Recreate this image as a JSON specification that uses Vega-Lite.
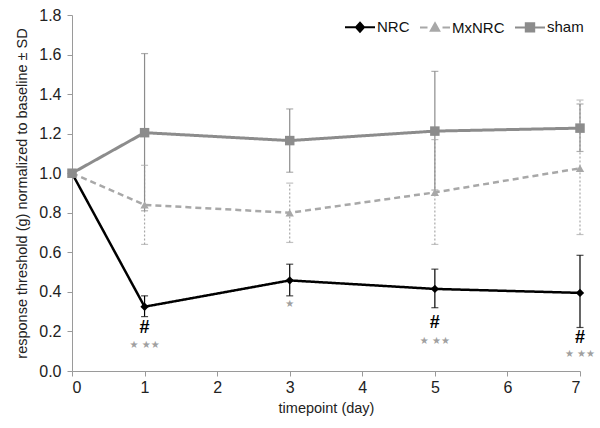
{
  "$schema": "https://vega.github.io/schema/vega-lite/v6.json",
  "width": 508,
  "height": 356,
  "autosize": {"type": "none"},
  "padding": {"left": 72, "top": 15, "right": 20, "bottom": 57},
  "background": "white",
  "config": {
    "font": "Liberation Sans",
    "view": {"stroke": null},
    "axis": {
      "grid": false,
      "domainColor": "#9a9a9a",
      "tickColor": "#9a9a9a",
      "tickSize": 5,
      "labelFontSize": 16,
      "labelColor": "#222222",
      "labelOverlap": false,
      "labelSeparation": 0,
      "titleFontSize": 14.5,
      "titleFontWeight": "normal",
      "titleColor": "#222222"
    },
    "axisY": {"labelOverlap": false, "tickCount": 10}
  },
  "datasets": {
    "series": [
      {"series": "NRC", "day": 0, "mean": 1.0, "lo": 1.0, "hi": 1.0},
      {"series": "NRC", "day": 1, "mean": 0.325, "lo": 0.275, "hi": 0.38},
      {"series": "NRC", "day": 3, "mean": 0.458, "lo": 0.38, "hi": 0.54},
      {"series": "NRC", "day": 5, "mean": 0.415, "lo": 0.32, "hi": 0.515},
      {"series": "NRC", "day": 7, "mean": 0.395, "lo": 0.22, "hi": 0.585},
      {"series": "MxNRC", "day": 0, "mean": 1.0, "lo": 1.0, "hi": 1.0},
      {"series": "MxNRC", "day": 1, "mean": 0.84, "lo": 0.64, "hi": 1.04},
      {"series": "MxNRC", "day": 3, "mean": 0.80, "lo": 0.65, "hi": 0.95},
      {"series": "MxNRC", "day": 5, "mean": 0.903, "lo": 0.64, "hi": 1.17},
      {"series": "MxNRC", "day": 7, "mean": 1.025, "lo": 0.69, "hi": 1.37},
      {"series": "sham", "day": 0, "mean": 1.0, "lo": 1.0, "hi": 1.0},
      {"series": "sham", "day": 1, "mean": 1.205, "lo": 0.81, "hi": 1.605},
      {"series": "sham", "day": 3, "mean": 1.165, "lo": 1.005, "hi": 1.325},
      {"series": "sham", "day": 5, "mean": 1.213, "lo": 0.915, "hi": 1.515},
      {"series": "sham", "day": 7, "mean": 1.228, "lo": 1.11, "hi": 1.35}
    ],
    "notes": [
      {"day": 1, "y": 0.215, "text": "#", "kind": "hash"},
      {"day": 1, "y": 0.13, "text": "★ ★★", "kind": "star"},
      {"day": 3, "y": 0.34, "text": "★", "kind": "star"},
      {"day": 5, "y": 0.245, "text": "#", "kind": "hash"},
      {"day": 5, "y": 0.15, "text": "★ ★★", "kind": "star"},
      {"day": 7, "y": 0.165, "text": "#", "kind": "hash"},
      {"day": 7, "y": 0.085, "text": "★ ★★", "kind": "star"}
    ]
  },
  "encoding": {
    "x": {
      "field": "day", "type": "quantitative",
      "scale": {"domain": [0, 7], "nice": false},
      "axis": {"values": [0, 1, 2, 3, 4, 5, 6, 7], "format": "d", "title": "timepoint (day)", "labelPadding": 3, "titlePadding": 6, "labelOverlap": false}
    }
  },
  "layer": [
    {
      "data": {"name": "series"},
      "mark": {"type": "line"},
      "encoding": {
        "y": {
          "field": "mean", "type": "quantitative",
          "scale": {"domain": [0, 1.8], "nice": false, "zero": true},
          "axis": {"values": [0, 0.2, 0.4, 0.6, 0.8, 1, 1.2, 1.4, 1.6, 1.8], "format": ".1f", "title": "response threshold (g) normalized  to baseline ± SD", "labelPadding": 6, "titlePadding": 9, "labelOverlap": false, "tickCount": 10}
        },
        "color": {
          "field": "series", "type": "nominal",
          "scale": {"domain": ["NRC", "MxNRC", "sham"], "range": ["#000000", "#a8a8a8", "#8c8c8c"]},
          "legend": {
            "title": null,
            "orient": "top-right",
            "direction": "horizontal",
            "offset": -4,
            "labelFontSize": 15,
            "labelColor": "#111111",
            "labelOffset": 1,
            "columnPadding": 6,
            "symbolSize": 900,
            "symbolStrokeWidth": 2,
            "encode": {
              "symbols": {
                "update": {
                  "shape": {"signal": "datum.value === 'NRC' ? 'M-1,0H1M0,-0.3L0.27,0L0,0.3L-0.27,0Z' : datum.value === 'MxNRC' ? 'M-1,0H-0.5M0,-0.28L0.28,0.22L-0.28,0.22ZM0.5,0H1' : 'M-1,0H1M-0.28,-0.28H0.28V0.28H-0.28Z'"},
                  "fill": {"signal": "scale('color', datum.value)"},
                  "stroke": {"signal": "scale('color', datum.value)"},
                  "strokeWidth": {"value": 2},
                  "size": {"value": 900}
                }
              }
            }
          }
        },
        "strokeDash": {"condition": {"test": "datum.series === 'MxNRC'", "value": [6, 4]}, "value": [1, 0]},
        "strokeWidth": {"condition": {"test": "datum.series === 'sham'", "value": 3}, "value": 2.5}
      }
    },
    {
      "data": {"name": "series"},
      "transform": [{"filter": "datum.day > 0"}],
      "mark": {"type": "rule", "strokeWidth": 1.2},
      "encoding": {
        "y": {"field": "lo", "type": "quantitative"},
        "y2": {"field": "hi"},
        "color": {"field": "series", "type": "nominal"},
        "strokeDash": {"condition": {"test": "datum.series === 'MxNRC'", "value": [2, 2]}, "value": [1, 0]}
      }
    },
    {
      "data": {"name": "series"},
      "transform": [{"filter": "datum.day > 0"}],
      "mark": {"type": "tick", "orient": "horizontal", "thickness": 1.2, "size": 7},
      "encoding": {
        "y": {"field": "lo", "type": "quantitative"},
        "color": {"field": "series", "type": "nominal"}
      }
    },
    {
      "data": {"name": "series"},
      "transform": [{"filter": "datum.day > 0"}],
      "mark": {"type": "tick", "orient": "horizontal", "thickness": 1.2, "size": 7},
      "encoding": {
        "y": {"field": "hi", "type": "quantitative"},
        "color": {"field": "series", "type": "nominal"}
      }
    },
    {
      "data": {"name": "series"},
      "mark": {"type": "point", "filled": true, "opacity": 1},
      "encoding": {
        "y": {"field": "mean", "type": "quantitative"},
        "color": {"field": "series", "type": "nominal"},
        "shape": {
          "condition": [
            {"test": "datum.series === 'NRC'", "value": "diamond"},
            {"test": "datum.series === 'MxNRC'", "value": "triangle-up"}
          ],
          "value": "square"
        },
        "size": {"condition": {"test": "datum.series === 'sham'", "value": 90}, "value": 70}
      }
    },
    {
      "data": {"name": "notes"},
      "transform": [{"filter": "datum.kind === 'hash'"}],
      "mark": {"type": "text", "baseline": "middle", "align": "center", "fontWeight": "bold", "fontSize": 18, "color": "#000000"},
      "encoding": {
        "y": {"field": "y", "type": "quantitative"},
        "text": {"field": "text"}
      }
    },
    {
      "data": {"name": "notes"},
      "transform": [{"filter": "datum.kind === 'star'"}],
      "mark": {"type": "text", "baseline": "middle", "align": "center", "fontSize": 10, "font": "DejaVu Sans", "color": "#a0a0a0"},
      "encoding": {
        "y": {"field": "y", "type": "quantitative"},
        "text": {"field": "text"}
      }
    }
  ]
}
